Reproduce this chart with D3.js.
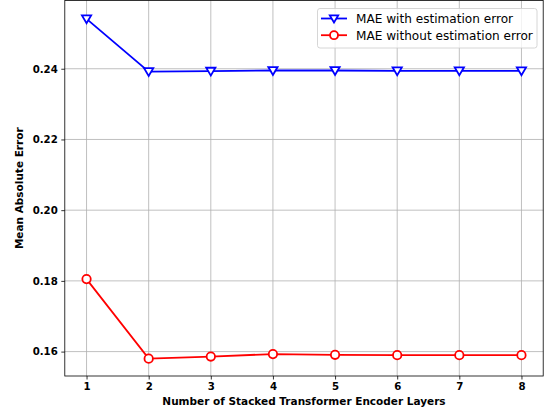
<!DOCTYPE html>
<html>
<head>
<meta charset="utf-8">
<script src="https://cdn.jsdelivr.net/npm/d3@7"></script>
<style>
  html, body { margin: 0; padding: 0; background: #fff; }
  svg { display: block; font-family: "DejaVu Sans", sans-serif; }
</style>
</head>
<body>
<script>
// Number of stacked encoder layers
const layers = [1, 2, 3, 4, 5, 6, 7, 8];
// Mean absolute error per configuration
const maeWithError = [0.2541, 0.2392, 0.2393, 0.2395, 0.2395, 0.2394, 0.2394, 0.2394];
const maeWithoutError = [0.1805, 0.1580, 0.1586, 0.1593, 0.1591, 0.1590, 0.1590, 0.1590];
const yTicks = [0.16, 0.18, 0.20, 0.22, 0.24];
const seriesNames = ["MAE with estimation error", "MAE without estimation error"];
const seriesColors = ["#0000ff", "#ff0000"];

const W = 553, H = 414;
const plot = { left: 64.8, right: 543.2, top: 0.5, bottom: 376 };

const svg = d3.select("body").append("svg").attr("width", W).attr("height", H);

const x = d3.scaleLinear().domain([0.65, 8.35]).range([plot.left, plot.right]);
const y = d3.scaleLinear().domain([0.1531, 0.2593]).range([plot.bottom, plot.top]);

// grid
const grid = svg.append("g").attr("stroke", "#b0b0b0").attr("stroke-width", 0.8);
grid.selectAll("line.gx").data(layers).join("line")
  .attr("x1", d => x(d)).attr("x2", d => x(d))
  .attr("y1", plot.top).attr("y2", plot.bottom);
grid.selectAll("line.gy").data(yTicks).join("line")
  .attr("x1", plot.left).attr("x2", plot.right)
  .attr("y1", d => y(d)).attr("y2", d => y(d));

// axes
const xAxis = d3.axisBottom(x).tickValues(layers).tickFormat(d3.format("d")).tickSizeOuter(0).tickSize(3.5).tickPadding(3.5);
const yAxis = d3.axisLeft(y).tickValues(yTicks).tickFormat(d3.format(".2f")).tickSizeOuter(0).tickSize(3.5).tickPadding(3.5);

const gx = svg.append("g").attr("transform", `translate(0,${plot.bottom})`).call(xAxis);
const gy = svg.append("g").attr("transform", `translate(${plot.left},0)`).call(yAxis);
[gx, gy].forEach(g => {
  g.select(".domain").remove();
  g.selectAll(".tick line").attr("stroke", "#000").attr("stroke-width", 0.8);
  g.selectAll(".tick text").attr("font-size", "10.2px").attr("font-weight", "bold")
    .attr("font-family", "DejaVu Sans, sans-serif").attr("fill", "#000");
});

// frame
svg.append("rect")
  .attr("x", plot.left).attr("y", plot.top)
  .attr("width", plot.right - plot.left).attr("height", plot.bottom - plot.top)
  .attr("fill", "none").attr("stroke", "#000").attr("stroke-width", 0.8);

// axis titles
svg.append("text")
  .attr("x", (plot.left + plot.right) / 2).attr("y", 405)
  .attr("text-anchor", "middle").attr("font-size", "10.5px").attr("font-weight", "bold")
  .text("Number of Stacked Transformer Encoder Layers");
svg.append("text")
  .attr("transform", `translate(23,${(plot.top + plot.bottom) / 2}) rotate(-90)`)
  .attr("text-anchor", "middle").attr("font-size", "10.5px").attr("font-weight", "bold")
  .text("Mean Absolute Error");

const line = d3.line().x((d, i) => x(layers[i])).y(d => y(d));

const triPath = r => `M${-r},${-r * 0.75}L${r},${-r * 0.75}L0,${r * 0.95}Z`;

function drawSeries(values, color, marker) {
  const g = svg.append("g");
  g.append("path").datum(values).attr("d", line)
    .attr("fill", "none").attr("stroke", color).attr("stroke-width", 1.8);
  const m = g.selectAll("g.m").data(values).join("g")
    .attr("transform", (d, i) => `translate(${x(layers[i])},${y(d)})`);
  if (marker === "tri") {
    m.append("path").attr("d", triPath(4.6)).attr("fill", "#fff")
      .attr("stroke", color).attr("stroke-width", 1.8);
  } else {
    m.append("circle").attr("r", 4.2).attr("fill", "#fff")
      .attr("stroke", color).attr("stroke-width", 1.8);
  }
}
drawSeries(maeWithError, seriesColors[0], "tri");
drawSeries(maeWithoutError, seriesColors[1], "circle");

// legend
const lg = svg.append("g");
lg.append("rect").attr("x", 317.5).attr("y", 8.5).attr("width", 219.5).attr("height", 39.5)
  .attr("rx", 2.5).attr("fill", "#fff").attr("fill-opacity", 0.8)
  .attr("stroke", "#cccccc").attr("stroke-width", 0.8);
seriesNames.forEach((name, i) => {
  const cy = 18.5 + i * 16.7;
  lg.append("line").attr("x1", 321).attr("x2", 347).attr("y1", cy).attr("y2", cy)
    .attr("stroke", seriesColors[i]).attr("stroke-width", 1.8);
  if (i === 0) {
    lg.append("path").attr("transform", `translate(334,${cy})`).attr("d", triPath(4.2))
      .attr("fill", "#fff").attr("stroke", seriesColors[i]).attr("stroke-width", 1.8);
  } else {
    lg.append("circle").attr("cx", 334).attr("cy", cy).attr("r", 4)
      .attr("fill", "#fff").attr("stroke", seriesColors[i]).attr("stroke-width", 1.8);
  }
  lg.append("text").attr("x", 356).attr("y", cy).attr("dy", "0.36em")
    .attr("font-size", "12.1px").text(name);
});
</script>
</body>
</html>
